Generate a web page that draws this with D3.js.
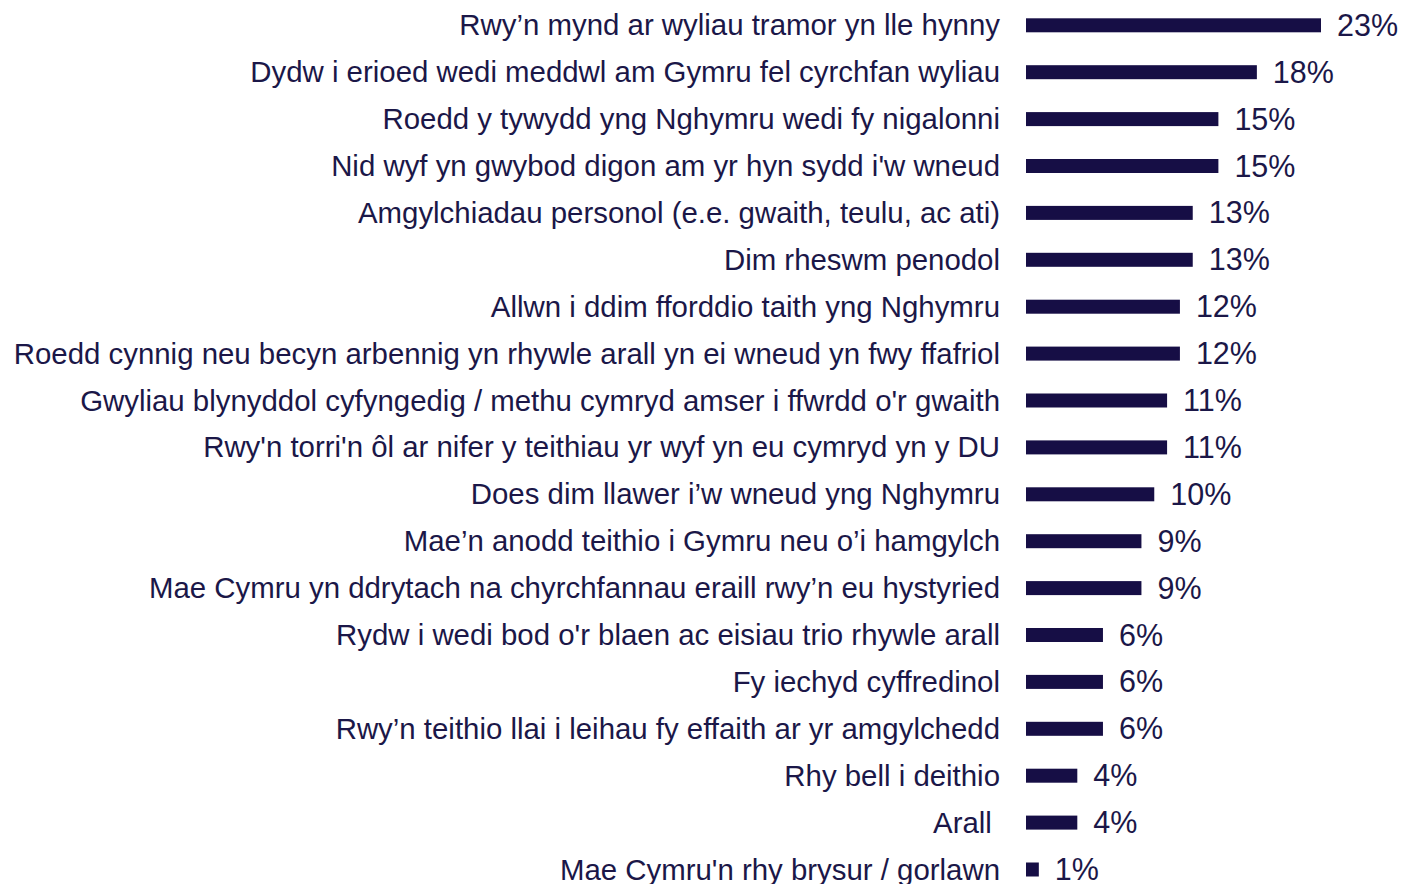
<!DOCTYPE html>
<html>
<head>
<meta charset="utf-8">
<script src="https://cdn.jsdelivr.net/npm/d3@7"></script>
<style>
  html, body { margin: 0; padding: 0; background: #ffffff; }
  svg { display: block; }
  text { font-family: "Liberation Sans", Arial, sans-serif; fill: #1b1748; }
</style>
</head>
<body>
<svg id="chart" width="1405" height="884"></svg>
<script>
// Reasons for not taking a holiday in Wales (% of respondents)
const categories = [
  "Rwy’n mynd ar wyliau tramor yn lle hynny",
  "Dydw i erioed wedi meddwl am Gymru fel cyrchfan wyliau",
  "Roedd y tywydd yng Nghymru wedi fy nigalonni",
  "Nid wyf yn gwybod digon am yr hyn sydd i'w wneud",
  "Amgylchiadau personol (e.e. gwaith, teulu, ac ati)",
  "Dim rheswm penodol",
  "Allwn i ddim fforddio taith yng Nghymru",
  "Roedd cynnig neu becyn arbennig yn rhywle arall yn ei wneud yn fwy ffafriol",
  "Gwyliau blynyddol cyfyngedig / methu cymryd amser i ffwrdd o'r gwaith",
  "Rwy'n torri'n ôl ar nifer y teithiau yr wyf yn eu cymryd yn y DU",
  "Does dim llawer i’w wneud yng Nghymru",
  "Mae’n anodd teithio i Gymru neu o’i hamgylch",
  "Mae Cymru yn ddrytach na chyrchfannau eraill rwy’n eu hystyried",
  "Rydw i wedi bod o'r blaen ac eisiau trio rhywle arall",
  "Fy iechyd cyffredinol",
  "Rwy’n teithio llai i leihau fy effaith ar yr amgylchedd",
  "Rhy bell i deithio",
  "Arall ",
  "Mae Cymru'n rhy brysur / gorlawn"
];
const values = [23, 18, 15, 15, 13, 13, 12, 12, 11, 11, 10, 9, 9, 6, 6, 6, 4, 4, 1];
const valueLabels = values.map(v => v + "%");

const data = categories.map((c, i) => ({ category: c, value: values[i], label: valueLabels[i] }));

const svg = d3.select("#chart");
const barLeft = 1026;
const labelRight = 1000;
const barHeight = 14;

const x = d3.scaleLinear().domain([0, 23]).range([barLeft, 1321]);
const y = d3.scalePoint().domain(categories).range([25.3, 869.5]);

// Category labels
svg.append("g")
  .selectAll("text")
  .data(data)
  .join("text")
  .attr("x", labelRight)
  .attr("y", d => y(d.category) + 10)
  .attr("text-anchor", "end")
  .style("font-size", "29.4px")
  .style("white-space", "pre")
  .text(d => d.category);

// Bars
svg.append("g")
  .selectAll("rect")
  .data(data)
  .join("rect")
  .attr("x", x(0))
  .attr("y", d => y(d.category) - barHeight / 2)
  .attr("width", d => x(d.value) - x(0))
  .attr("height", barHeight)
  .attr("fill", "#160e45");

// Value labels
svg.append("g")
  .selectAll("text")
  .data(data)
  .join("text")
  .attr("x", d => x(d.value) + 16)
  .attr("y", d => y(d.category) + 10.5)
  .style("font-size", "30.5px")
  .text(d => d.label);
</script>
</body>
</html>
